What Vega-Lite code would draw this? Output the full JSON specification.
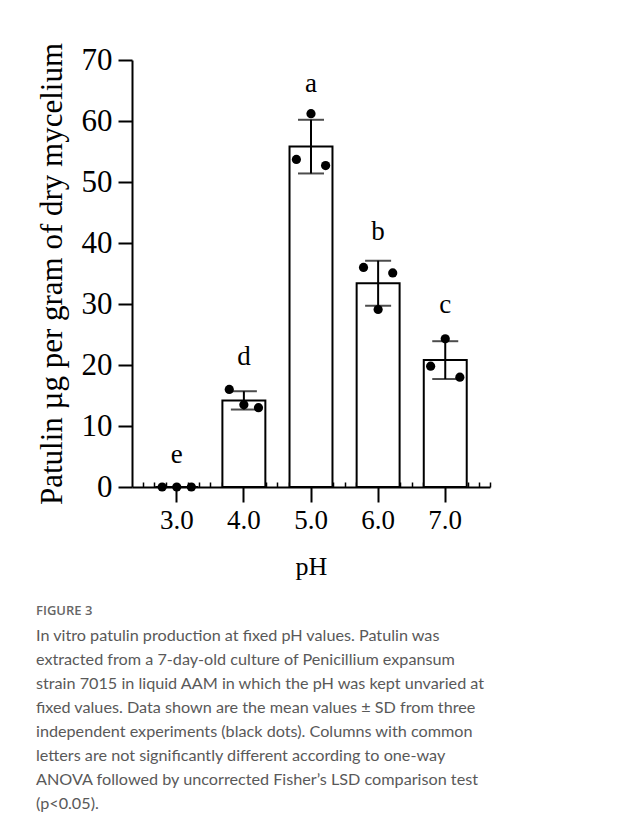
{
  "$schema": "https://vega.github.io/schema/vega-lite/v6.json",
  "width": 358,
  "height": 427,
  "padding": {"left": 36, "top": 42, "right": 10, "bottom": 10},
  "background": "white",
  "datasets": {
    "summary": [
      {"ph": "3.0", "phn": 3, "mean": 0, "sd": 0, "letter": "e", "letter_y": 5.3},
      {"ph": "4.0", "phn": 4, "mean": 14.2, "sd": 1.5, "letter": "d", "letter_y": 21.3},
      {"ph": "5.0", "phn": 5, "mean": 55.8, "sd": 4.4, "letter": "a", "letter_y": 66.1},
      {"ph": "6.0", "phn": 6, "mean": 33.4, "sd": 3.7, "letter": "b", "letter_y": 41.8},
      {"ph": "7.0", "phn": 7, "mean": 20.8, "sd": 3.1, "letter": "c", "letter_y": 29.8}
    ],
    "reps": [
      {"ph": "3.0", "pos": "L", "value": 0},
      {"ph": "3.0", "pos": "C", "value": 0},
      {"ph": "3.0", "pos": "R", "value": 0},
      {"ph": "4.0", "pos": "L", "value": 16.0},
      {"ph": "4.0", "pos": "C", "value": 13.5},
      {"ph": "4.0", "pos": "R", "value": 13.0},
      {"ph": "5.0", "pos": "C", "value": 61.2},
      {"ph": "5.0", "pos": "L", "value": 53.7},
      {"ph": "5.0", "pos": "R", "value": 52.7},
      {"ph": "6.0", "pos": "L", "value": 36.0},
      {"ph": "6.0", "pos": "R", "value": 35.1},
      {"ph": "6.0", "pos": "C", "value": 29.1},
      {"ph": "7.0", "pos": "C", "value": 24.3},
      {"ph": "7.0", "pos": "L", "value": 19.8},
      {"ph": "7.0", "pos": "R", "value": 18.0}
    ]
  },
  "title": {
    "text": "FIGURE 3",
    "subtitle": [
      "In vitro patulin production at fixed pH values. Patulin was",
      "extracted from a 7-day-old culture of Penicillium expansum",
      "strain 7015 in liquid AAM in which the pH was kept unvaried at",
      "fixed values. Data shown are the mean values ± SD from three",
      "independent experiments (black dots). Columns with common",
      "letters are not significantly different according to one-way",
      "ANOVA followed by uncorrected Fisher’s LSD comparison test",
      "(p<0.05)."
    ],
    "orient": "bottom",
    "anchor": "start",
    "frame": "bounds",
    "font": "Open Sans",
    "fontSize": 13,
    "fontWeight": 600,
    "color": "#666666",
    "subtitleFont": "Lato",
    "subtitleFontSize": 16.2,
    "subtitleColor": "#595959",
    "subtitleLineHeight": 24,
    "subtitlePadding": 10,
    "offset": 26
  },
  "layer": [
    {
      "layer": [
        {
          "data": {"name": "summary"},
          "mark": {"type": "bar", "fill": "white", "stroke": "black", "strokeWidth": 2},
          "encoding": {
            "x": {
              "field": "ph", "type": "nominal", "sort": null,
              "scale": {"paddingInner": 0.36, "paddingOuter": 0.3467},
              "axis": {
                "orient": "bottom", "labelAngle": 0,
                "tickSize": 15, "tickWidth": 2, "domainWidth": 2,
                "labelFontSize": 27, "labelPadding": 5,
                "title": "pH", "titleFontSize": 26, "titlePadding": 20, "grid": false
              }
            },
            "y": {
              "field": "mean", "type": "quantitative",
              "scale": {"domain": [0, 70], "nice": false},
              "title": "Patulin µg per gram of dry mycelium",
              "axis": {
                "values": [0, 10, 20, 30, 40, 50, 60, 70],
                "tickSize": 14, "tickWidth": 2, "domainWidth": 2,
                "labelFontSize": 31, "labelPadding": 6,
                "titleFontSize": 31, "titlePadding": 13, "grid": false
              }
            }
          }
        },
        {
          "data": {"name": "summary"},
          "mark": {
            "type": "errorbar",
            "ticks": {"size": 26, "thickness": 2, "color": "black"},
            "rule": {"strokeWidth": 2, "color": "black"}
          },
          "encoding": {
            "x": {"field": "ph", "type": "nominal", "sort": null},
            "y": {"field": "mean", "type": "quantitative", "title": "Patulin µg per gram of dry mycelium"},
            "yError": {"field": "sd"}
          }
        },
        {
          "data": {"name": "reps"},
          "transform": [{"filter": "datum.pos === 'L'"}],
          "mark": {"type": "circle", "size": 85, "color": "black", "opacity": 1},
          "encoding": {
            "x": {"field": "ph", "type": "nominal", "sort": null, "bandPosition": 0.16},
            "y": {"field": "value", "type": "quantitative", "title": "Patulin µg per gram of dry mycelium"}
          }
        },
        {
          "data": {"name": "reps"},
          "transform": [{"filter": "datum.pos === 'C'"}],
          "mark": {"type": "circle", "size": 85, "color": "black", "opacity": 1},
          "encoding": {
            "x": {"field": "ph", "type": "nominal", "sort": null, "bandPosition": 0.5},
            "y": {"field": "value", "type": "quantitative", "title": "Patulin µg per gram of dry mycelium"}
          }
        },
        {
          "data": {"name": "reps"},
          "transform": [{"filter": "datum.pos === 'R'"}],
          "mark": {"type": "circle", "size": 85, "color": "black", "opacity": 1},
          "encoding": {
            "x": {"field": "ph", "type": "nominal", "sort": null, "bandPosition": 0.84},
            "y": {"field": "value", "type": "quantitative", "title": "Patulin µg per gram of dry mycelium"}
          }
        }
      ]
    },
    {
      "data": {"name": "summary"},
      "mark": {"type": "text", "font": "Liberation Serif", "fontSize": 27, "baseline": "middle", "color": "black"},
      "encoding": {
        "x": {
          "field": "phn", "type": "quantitative",
          "scale": {"domain": [2.3333, 7.6667], "nice": false, "zero": false},
          "axis": {
            "orient": "bottom",
            "values": [2.5, 2.6667, 2.8333, 3.1667, 3.3333, 3.5, 3.6667, 3.8333, 4.1667, 4.3333, 4.5, 4.6667, 4.8333, 5.1667, 5.3333, 5.5, 5.6667, 5.8333, 6.1667, 6.3333, 6.5, 6.6667, 6.8333, 7.1667, 7.3333, 7.5, 7.6667],
            "tickSize": -5, "tickWidth": 1.5, "labels": false, "domain": false, "title": null, "grid": false
          }
        },
        "y": {"field": "letter_y", "type": "quantitative", "title": "Patulin µg per gram of dry mycelium"},
        "text": {"field": "letter"}
      }
    }
  ],
  "resolve": {"scale": {"x": "independent"}, "axis": {"x": "independent"}},
  "config": {
    "view": {"stroke": null},
    "axis": {
      "labelFont": "Liberation Serif", "titleFont": "Liberation Serif", "titleFontWeight": "normal",
      "labelColor": "black", "titleColor": "black", "domainColor": "black", "tickColor": "black"
    }
  }
}
